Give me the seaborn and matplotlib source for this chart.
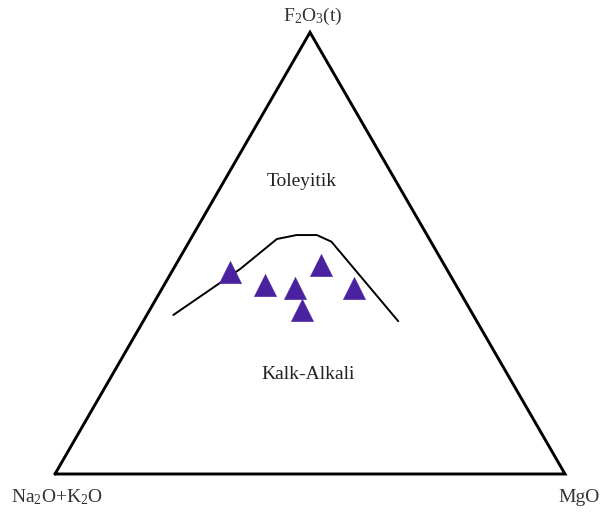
import numpy as np
import pandas as pd
import matplotlib
matplotlib.use("Agg")
import matplotlib.pyplot as plt
import seaborn as sns

# ---- data (ternary %: Na2O+K2O = A, Fe2O3(t) = F, MgO = M) ----
sample_A = [42.8, 37.4, 31.9, 24.2, 20.4, 33.0]
sample_F = [45.8, 42.9, 42.2, 47.4, 42.0, 37.1]
sample_M = [11.4, 19.7, 25.9, 28.4, 37.6, 29.9]

boundary_A = [58.8, 40.5, 29.9, 25.6, 21.6, 19.5, 15.4]
boundary_F = [36.0, 46.4, 53.2, 54.1, 54.1, 52.6, 34.6]
boundary_M = [5.2, 13.1, 16.9, 20.3, 24.3, 27.9, 50.0]

corner_labels = [r"Na$_2$O+K$_2$O", r"F$_2$O$_3$(t)", "MgO"]
field_labels = ["Toleyitik", "Kalk-Alkali"]

SQ3 = np.sqrt(3) / 2


def to_xy(A, F, M):
    A, F, M = (np.asarray(v, float) for v in (A, F, M))
    s = A + F + M
    f, m = F / s, M / s
    return m + f / 2, f * SQ3


sns.set_theme(style="white")
plt.rcParams["font.family"] = ["Liberation Serif", "DejaVu Serif"]
plt.rcParams["mathtext.fontset"] = "custom"
plt.rcParams["mathtext.rm"] = "Liberation Serif"
plt.rcParams["mathtext.it"] = "Liberation Serif:italic"

fig = plt.figure(figsize=(6.14, 5.13), dpi=100)
ax = fig.add_axes([0, 0, 1, 1])

# triangle frame
tx, ty = to_xy([100, 0, 0, 100], [0, 100, 0, 0], [0, 0, 100, 0])
ax.plot(tx, ty, color="black", lw=2.1, solid_joinstyle="miter", zorder=2)

# boundary curve
bx, by = to_xy(boundary_A, boundary_F, boundary_M)
bdf = pd.DataFrame({"x": bx, "y": by})
sns.lineplot(data=bdf, x="x", y="y", sort=False, color="black", lw=1.4,
             ax=ax, zorder=3)

# samples
sx, sy = to_xy(sample_A, sample_F, sample_M)
sdf = pd.DataFrame({"x": sx, "y": sy})
sns.scatterplot(data=sdf, x="x", y="y", marker="^", s=260, color="#4a22a0",
                edgecolor="#4a22a0", linewidth=0.3, ax=ax, zorder=4)
ax.set_xlim(-55 / 510, (614 - 55) / 510)
ax.set_ylim(-39 / 510, 474 / 510)
ax.set_axis_off()

fs = 14
ax.text(0.0049, -0.0549, corner_labels[0], ha="center", va="baseline",
        fontsize=fs, color="#333333")
ax.text(0.5059, 0.8882, corner_labels[1], ha="center", va="baseline",
        fontsize=fs, color="#333333")
ax.text(1.0275, -0.0549, corner_labels[2], ha="center", va="baseline",
        fontsize=fs, color="#333333")
ax.text(0.4843, 0.5647, field_labels[0], ha="center", va="baseline",
        fontsize=fs, color="#222222")
ax.text(0.4961, 0.1857, field_labels[1], ha="center", va="baseline",
        fontsize=fs, color="#222222")

fig.savefig("out.png", dpi=100, facecolor="white")
